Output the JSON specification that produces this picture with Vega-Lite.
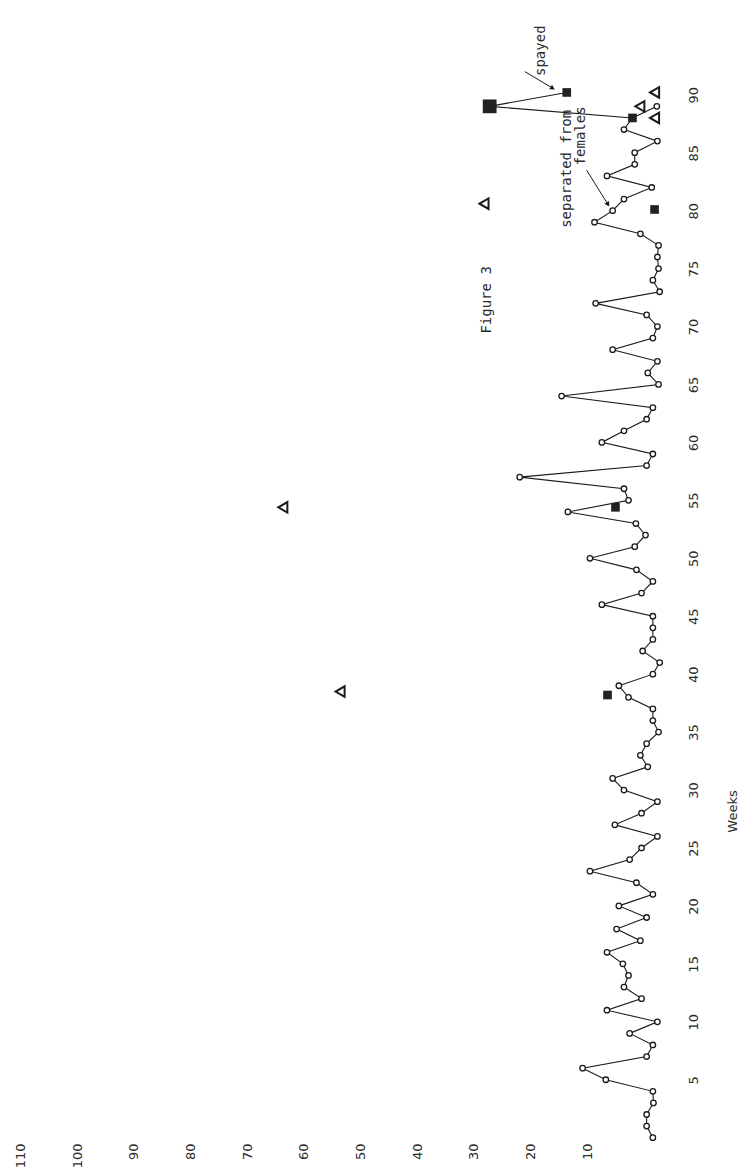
{
  "$schema": "https://vega.github.io/schema/vega-lite/v6.json",
  "autosize": "none",
  "width": 663,
  "height": 1080,
  "padding": {"left": 8, "top": 60, "right": 69, "bottom": 28},
  "background": "white",
  "config": {
    "view": {"stroke": null},
    "font": "DejaVu Sans Mono",
    "text": {"font": "DejaVu Sans Mono", "color": "#2a2a2a"}
  },
  "datasets": {
    "series": [
      {"week": 0, "value": 1.2}, {"week": 1, "value": 2.3}, {"week": 2, "value": 2.3}, {"week": 3, "value": 1.1},
      {"week": 4, "value": 1.2}, {"week": 5, "value": 9.5}, {"week": 6, "value": 13.6}, {"week": 7, "value": 2.3},
      {"week": 8, "value": 1.2}, {"week": 9, "value": 5.3}, {"week": 10, "value": 0.4}, {"week": 11, "value": 9.3},
      {"week": 12, "value": 3.2}, {"week": 13, "value": 6.3}, {"week": 14, "value": 5.5}, {"week": 15, "value": 6.5},
      {"week": 16, "value": 9.3}, {"week": 17, "value": 3.4}, {"week": 18, "value": 7.6}, {"week": 19, "value": 2.3},
      {"week": 20, "value": 7.2}, {"week": 21, "value": 1.2}, {"week": 22, "value": 4.1}, {"week": 23, "value": 12.3},
      {"week": 24, "value": 5.3}, {"week": 25, "value": 3.2}, {"week": 26, "value": 0.4}, {"week": 27, "value": 7.9},
      {"week": 28, "value": 3.2}, {"week": 29, "value": 0.4}, {"week": 30, "value": 6.3}, {"week": 31, "value": 8.3},
      {"week": 32, "value": 2.1}, {"week": 33, "value": 3.4}, {"week": 34, "value": 2.3}, {"week": 35, "value": 0.2},
      {"week": 36, "value": 1.2}, {"week": 37, "value": 1.2}, {"week": 38, "value": 5.5}, {"week": 39, "value": 7.2},
      {"week": 40, "value": 1.2}, {"week": 41, "value": 0}, {"week": 42, "value": 3.0}, {"week": 43, "value": 1.2},
      {"week": 44, "value": 1.2}, {"week": 45, "value": 1.2}, {"week": 46, "value": 10.2}, {"week": 47, "value": 3.2},
      {"week": 48, "value": 1.2}, {"week": 49, "value": 4.1}, {"week": 50, "value": 12.3}, {"week": 51, "value": 4.4},
      {"week": 52, "value": 2.5}, {"week": 53, "value": 4.2}, {"week": 54, "value": 16.2}, {"week": 55, "value": 5.5},
      {"week": 56, "value": 6.3}, {"week": 57, "value": 24.7}, {"week": 58, "value": 2.3}, {"week": 59, "value": 1.2},
      {"week": 60, "value": 10.2}, {"week": 61, "value": 6.3}, {"week": 62, "value": 2.3}, {"week": 63, "value": 1.2},
      {"week": 64, "value": 17.3}, {"week": 65, "value": 0.2}, {"week": 66, "value": 2.1}, {"week": 67, "value": 0.4},
      {"week": 68, "value": 8.3}, {"week": 69, "value": 1.2}, {"week": 70, "value": 0.4}, {"week": 71, "value": 2.3},
      {"week": 72, "value": 11.3}, {"week": 73, "value": 0}, {"week": 74, "value": 1.2}, {"week": 75, "value": 0.2},
      {"week": 76, "value": 0.4}, {"week": 77, "value": 0.2}, {"week": 78, "value": 3.4}, {"week": 79, "value": 11.5},
      {"week": 80, "value": 8.3}, {"week": 81, "value": 6.3}, {"week": 82, "value": 1.4}, {"week": 83, "value": 9.3},
      {"week": 84, "value": 4.4}, {"week": 85, "value": 4.4}, {"week": 86, "value": 0.4}, {"week": 87, "value": 6.3},
      {"week": 88, "value": 4.8}, {"week": 89, "value": 0.5}
    ],
    "spayedLine": [
      {"seq": 1, "week": 88, "value": 4.8},
      {"seq": 2, "week": 89, "value": 30},
      {"seq": 3, "week": 90.2, "value": 16.4}
    ],
    "squares": [
      {"week": 38.2, "value": 9.2}, {"week": 54.4, "value": 7.8}, {"week": 80.1, "value": 0.9},
      {"week": 88, "value": 4.8}, {"week": 90.2, "value": 16.4}
    ],
    "bigSquare": [{"week": 89, "value": 30}],
    "triangles": [
      {"week": 38.5, "value": 56.4}, {"week": 54.4, "value": 66.5}, {"week": 80.6, "value": 31},
      {"week": 88.0, "value": 0.9}, {"week": 89.0, "value": 3.5}, {"week": 90.2, "value": 0.9}
    ],
    "centerNotes": [
      {"week": 72.3, "value": 30.5, "text": "Figure 3"},
      {"week": 93.8, "value": 21, "text": "spayed"}
    ],
    "endNotes": [
      {"week": 88.7, "value": 16.4, "text": "separated from"},
      {"week": 89.0, "value": 13.9, "text": "females"}
    ],
    "arrow1": [{"week": 83.5, "value": 12.9, "week2": 80.6, "value2": 9.2}],
    "arrow2": [{"week": 92.0, "value": 23.8, "week2": 90.6, "value2": 19.0}]
  },
  "encoding": {
    "x": {
      "field": "value", "type": "quantitative",
      "scale": {"domain": [-2, 115], "reverse": true, "nice": false, "zero": false},
      "axis": {
        "orient": "bottom", "values": [10, 20, 30, 40, 50, 60, 70, 80, 90, 100, 110],
        "labelAngle": 270, "labelAlign": "right", "labelBaseline": "middle",
        "labelPadding": 3, "labelOffset": -16, "ticks": false, "domain": false, "grid": false,
        "title": null, "labelFontSize": 13, "labelColor": "#2a2a2a", "labelFont": "DejaVu Sans",
        "labelOverlap": false, "labelFlush": false
      }
    },
    "y": {
      "field": "week", "type": "quantitative",
      "scale": {"domain": [-0.2, 93], "nice": false, "zero": false},
      "axis": {
        "orient": "right", "values": [5, 10, 15, 20, 25, 30, 35, 40, 45, 50, 55, 60, 65, 70, 75, 80, 85, 90],
        "labelAngle": 270, "labelAlign": "center", "labelBaseline": "middle",
        "labelPadding": 22, "ticks": false, "domain": false, "grid": false,
        "labelFontSize": 13, "labelColor": "#2a2a2a", "labelFont": "DejaVu Sans",
        "labelOverlap": false, "labelFlush": false,
        "title": "Weeks", "titleAngle": 270, "titleX": 61, "titleY": 751,
        "titleAlign": "center", "titleBaseline": "middle", "titleFontSize": 13,
        "titleFontWeight": "normal", "titleFont": "DejaVu Sans", "titleColor": "#2a2a2a"
      }
    }
  },
  "layer": [
    {
      "data": {"name": "series"},
      "mark": {"type": "line", "color": "#1a1a1a", "strokeWidth": 1.1},
      "encoding": {"order": {"field": "week"}}
    },
    {
      "data": {"name": "spayedLine"},
      "mark": {"type": "line", "color": "#1a1a1a", "strokeWidth": 1.1},
      "encoding": {"order": {"field": "seq"}}
    },
    {
      "data": {"name": "series"},
      "transform": [{"filter": "datum.week != 88"}],
      "mark": {"type": "point", "shape": "circle", "filled": true, "fill": "white", "stroke": "#1a1a1a", "strokeWidth": 1.3, "size": 30, "opacity": 1}
    },
    {
      "data": {"name": "squares"},
      "mark": {"type": "point", "shape": "square", "filled": true, "color": "#222222", "size": 75, "opacity": 1}
    },
    {
      "data": {"name": "bigSquare"},
      "mark": {"type": "point", "shape": "square", "filled": true, "color": "#222222", "size": 190, "opacity": 1}
    },
    {
      "data": {"name": "triangles"},
      "mark": {"type": "point", "shape": "triangle-left", "filled": false, "stroke": "#1a1a1a", "strokeWidth": 2, "size": 110, "opacity": 1}
    },
    {
      "data": {"name": "centerNotes"},
      "mark": {"type": "text", "angle": 270, "align": "center", "baseline": "middle", "fontSize": 14},
      "encoding": {"text": {"field": "text"}}
    },
    {
      "data": {"name": "endNotes"},
      "mark": {"type": "text", "angle": 270, "align": "right", "baseline": "middle", "fontSize": 14},
      "encoding": {"text": {"field": "text"}}
    },
    {
      "data": {"name": "arrow1"},
      "mark": {"type": "rule", "color": "#1a1a1a", "strokeWidth": 1},
      "encoding": {"x2": {"field": "value2"}, "y2": {"field": "week2"}}
    },
    {
      "data": {"name": "arrow1"},
      "mark": {"type": "point", "shape": "triangle", "filled": true, "color": "#1a1a1a", "size": 30, "angle": 149, "opacity": 1},
      "encoding": {"x": {"field": "value2", "type": "quantitative"}, "y": {"field": "week2", "type": "quantitative"}}
    },
    {
      "data": {"name": "arrow2"},
      "mark": {"type": "rule", "color": "#1a1a1a", "strokeWidth": 1},
      "encoding": {"x2": {"field": "value2"}, "y2": {"field": "week2"}}
    },
    {
      "data": {"name": "arrow2"},
      "mark": {"type": "point", "shape": "triangle", "filled": true, "color": "#1a1a1a", "size": 30, "angle": 121, "opacity": 1},
      "encoding": {"x": {"field": "value2", "type": "quantitative"}, "y": {"field": "week2", "type": "quantitative"}}
    }
  ]
}
